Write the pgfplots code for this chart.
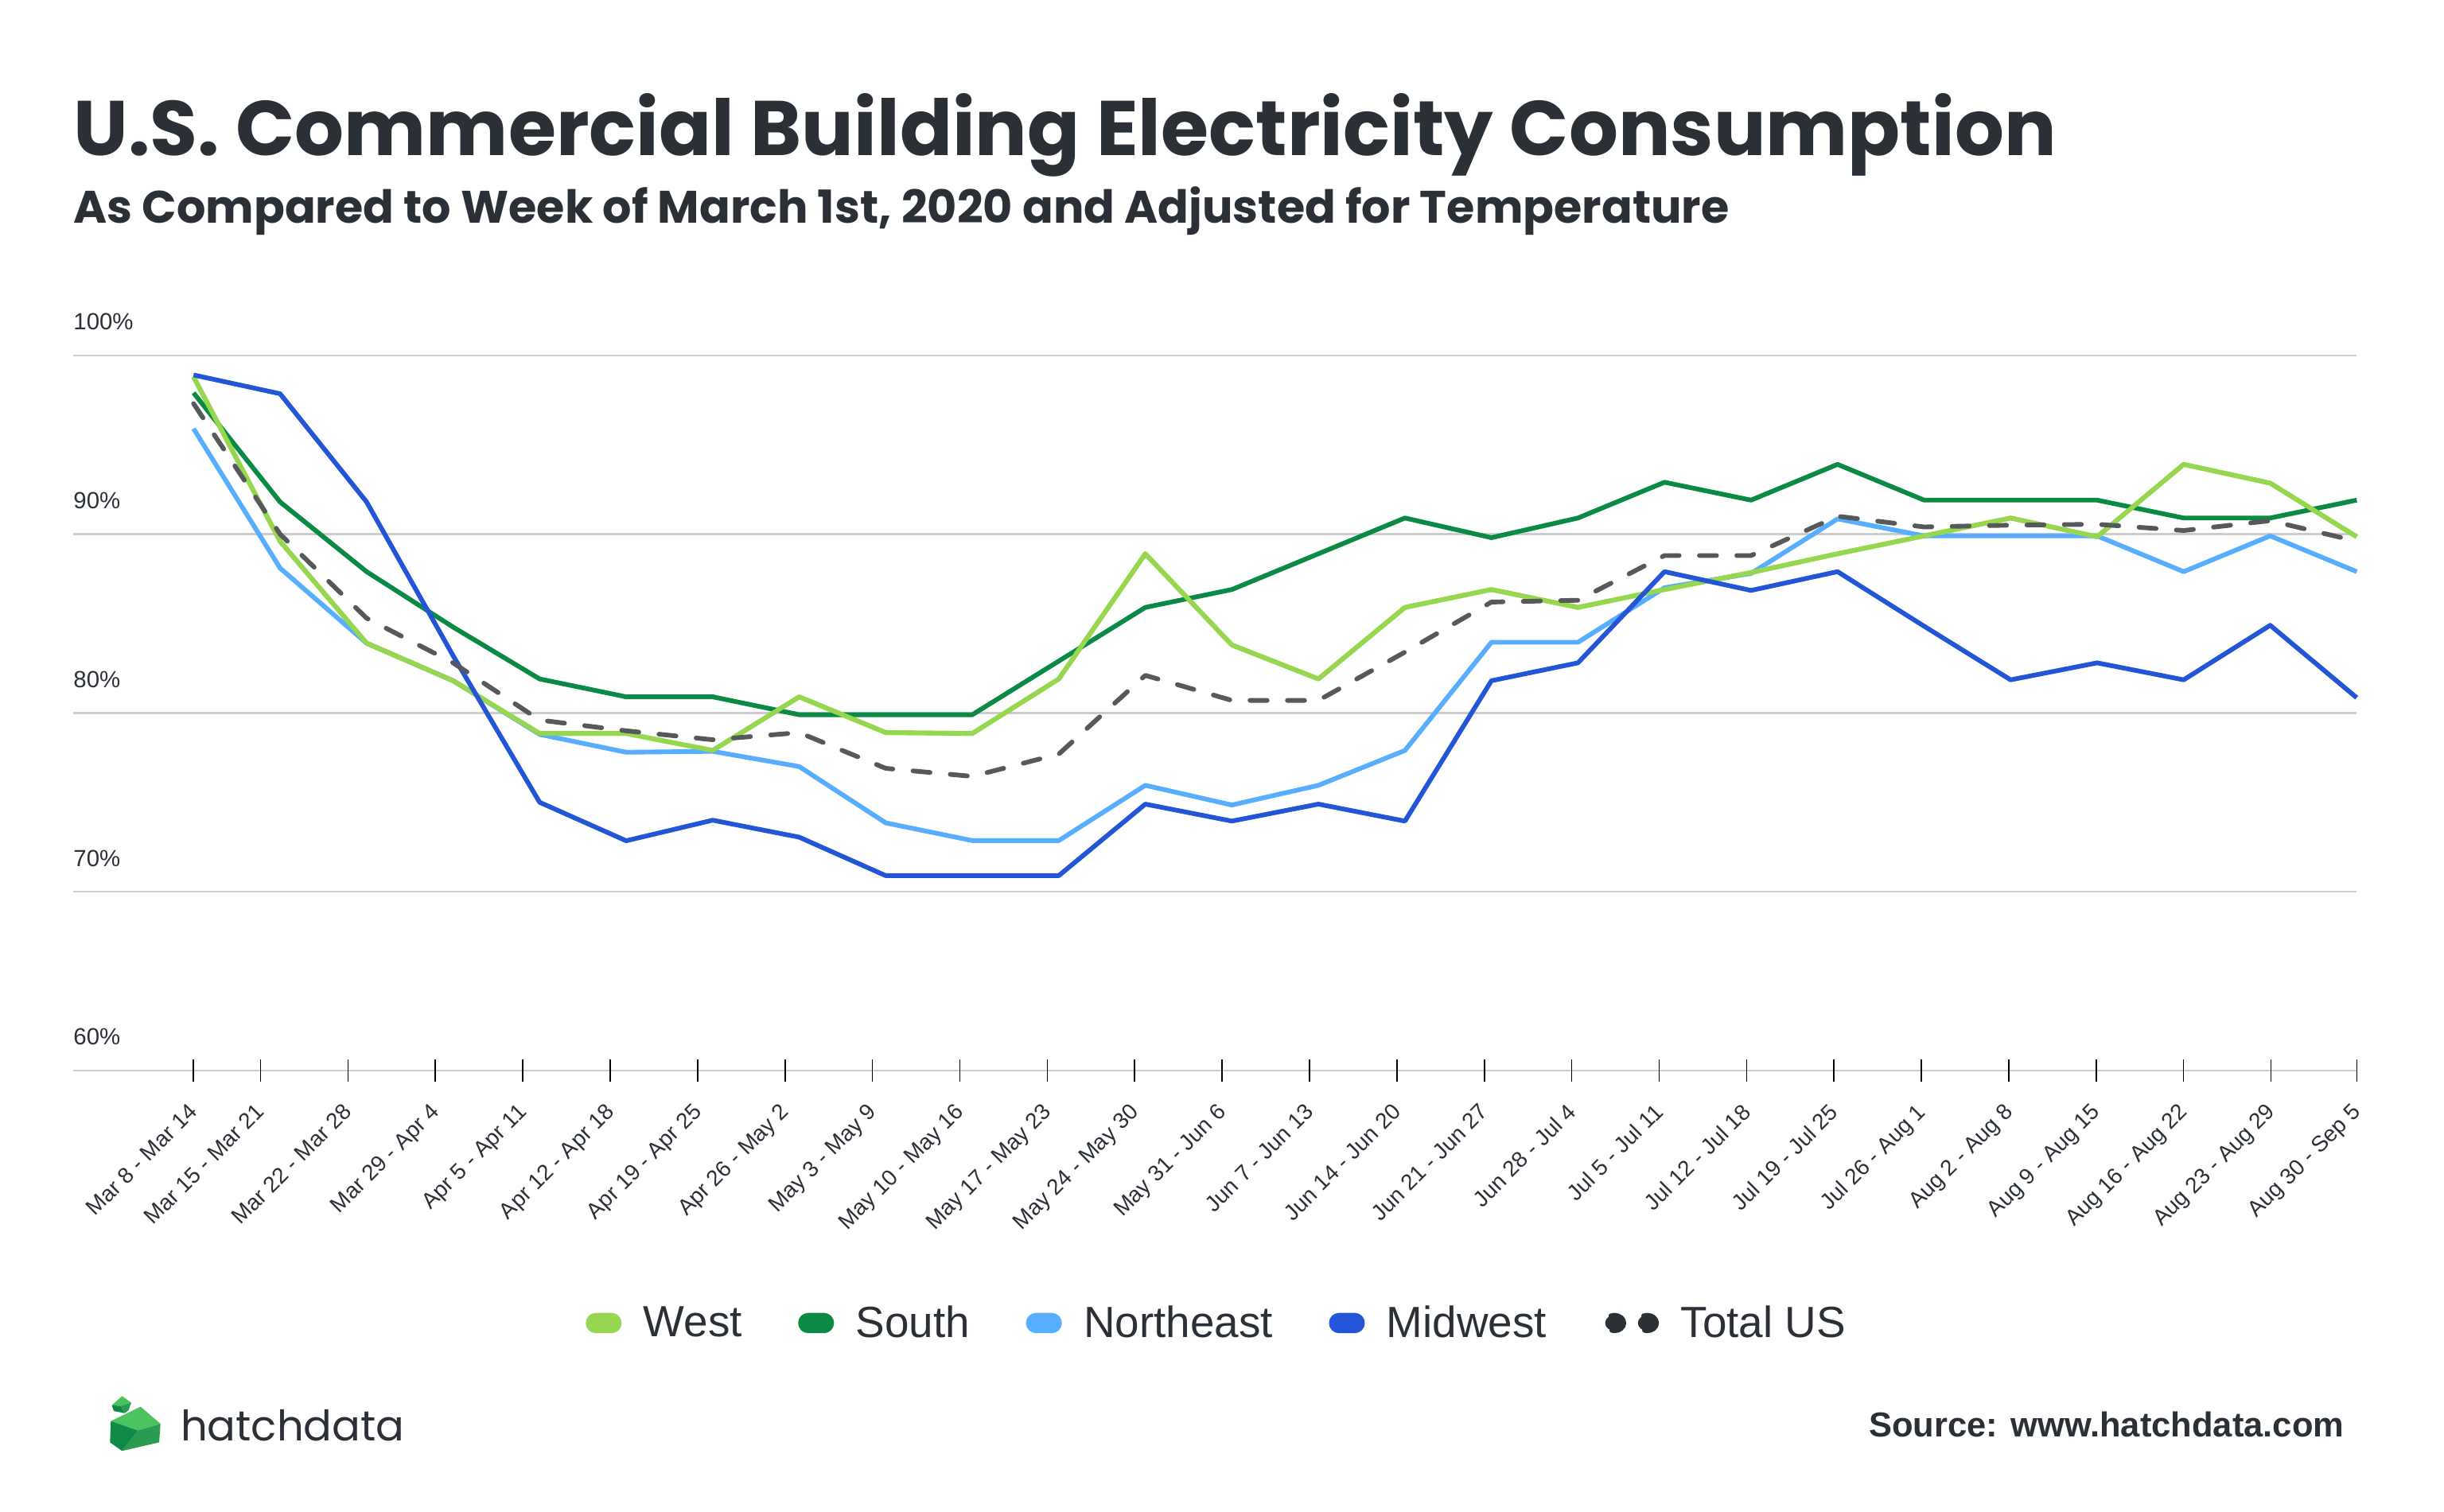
\documentclass[border=0pt]{standalone}
\usepackage{pgfplots}
\pgfplotsset{compat=1.18}
\usepackage{fontspec}
\setmainfont{Liberation Sans}
\newfontfamily\poppins{Poppins}
\definecolor{cWest}{HTML}{97D74F}
\definecolor{cSouth}{HTML}{0B8A45}
\definecolor{cNE}{HTML}{57ADFE}
\definecolor{cMid}{HTML}{2256D6}
\definecolor{cTot}{HTML}{55595C}
\definecolor{gridc}{HTML}{CCCCCC}
\definecolor{textc}{HTML}{2B3036}
\definecolor{logoA}{HTML}{4CC35E}
\definecolor{logoB}{HTML}{0F8946}
\definecolor{logoC}{HTML}{2A9C50}

\pgfplotstableread{
x West South NE Mid Tot
0 98.8 97.9 95.9 98.9 97.3
1 89.6 91.8 88.1 97.85 90.0
2 83.9 87.9 83.9 91.8 85.3
3 81.8 84.8 81.8 83.2 82.8
4 78.85 81.9 78.8 75.0 79.6
5 78.85 80.9 77.8 72.85 79.0
6 77.9 80.9 77.85 74.0 78.5
7 80.9 79.9 77.0 73.05 78.9
8 78.9 79.9 73.85 70.9 76.9
9 78.85 79.9 72.86 70.9 76.45
10 81.9 82.9 72.86 70.9 77.7
11 88.9 85.9 75.95 74.9 82.1
12 83.8 86.9 74.85 73.95 80.7
13 81.9 88.9 75.95 74.9 80.7
14 85.9 90.9 77.9 73.95 83.4
15 86.9 89.8 83.95 81.8 86.2
16 85.9 90.9 83.95 82.8 86.3
17 86.9 92.9 87.0 87.9 88.8
18 87.85 91.9 87.8 86.85 88.8
19 88.9 93.9 90.85 87.9 91.0
20 89.9 91.9 89.9 84.85 90.4
21 90.9 91.9 89.9 81.85 90.5
22 89.85 91.9 89.9 82.8 90.55
23 93.9 90.9 87.9 81.85 90.2
24 92.85 90.9 89.9 84.9 90.75
25 89.85 91.9 87.9 80.85 89.6
}\datatable

\begin{document}
\begin{tikzpicture}
\fill[white] (0pt,0pt) rectangle (1568pt,970pt);
\useasboundingbox (0pt,0pt) rectangle (1568pt,970pt);

\node[anchor=base west, inner sep=0pt, text=textc] at (47pt,870pt)
  {\poppins\bfseries\fontsize{49.7}{56}\selectfont U.S. Commercial Building Electricity Consumption};
\node[anchor=base west, inner sep=0pt, text=textc] at (47pt,827pt)
  {\poppins\bfseries\fontsize{29.2}{33}\selectfont As Compared to Week of March 1st, 2020 and Adjusted for Temperature};

\begin{axis}[
  at={(47pt,283pt)}, anchor=south west,
  scale only axis, width=1465pt, height=459pt,
  xmin=-1.39, xmax=25, ymin=60, ymax=100,
  axis line style={draw=none},
  clip=false,
  ytick={60,70,80,90,100},
  yticklabels={60\%,70\%,80\%,90\%,100\%},
  ymajorgrids,
  y grid style={draw=gridc, line width=1.2pt},
  ytick style={draw=none},
  yticklabel style={anchor=south west, inner sep=0pt, font=\fontsize{15}{17}\selectfont, text=textc, xshift=7pt, yshift=16pt},
  xtick={0,0.775,1.785,2.795,3.806,4.816,5.826,6.836,7.846,8.857,9.867,10.877,11.887,12.897,13.908,14.918,15.928,16.938,17.948,18.959,19.969,20.979,21.989,22.999,24.010,25},
  xticklabels={Mar 8 - Mar 14,Mar 15 - Mar 21,Mar 22 - Mar 28,Mar 29 - Apr 4,Apr 5 - Apr 11,Apr 12 - Apr 18,Apr 19 - Apr 25,Apr 26 - May 2,May 3 - May 9,May 10 - May 16,May 17 - May 23,May 24 - May 30,May 31 - Jun 6,Jun 7 - Jun 13,Jun 14 - Jun 20,Jun 21 - Jun 27,Jun 28 - Jul 4,Jul 5 - Jul 11,Jul 12 - Jul 18,Jul 19 - Jul 25,Jul 26 - Aug 1,Aug 2 - Aug 8,Aug 9 - Aug 15,Aug 16 - Aug 22,Aug 23 - Aug 29,Aug 30 - Sep 5},
  xtick pos=left,
  tick align=center,
  major tick length=14pt,
  xtick style={draw=black, line width=0.8pt},
  xticklabel style={rotate=45, anchor=north east, inner sep=0pt, font=\fontsize{14.3}{16}\selectfont, text=textc, xshift=-12pt, yshift=-6.5pt},
  every axis plot/.append style={line width=3pt, line join=round},
  legend columns=5,
  legend style={at={(0.501,-0.353)}, anchor=center, draw=none, fill=none,
    font=\fontsize{28}{32}\selectfont, text=textc,
    /tikz/every odd column/.append style={column sep=12pt},
    /tikz/every even column/.append style={column sep=34pt}},
  legend image code/.code={\fill[#1, rounded corners=5pt] (0pt,-5pt) rectangle (20pt,5pt);},
]
\addplot[cWest] table[x=x, y=West] {\datatable};
\addlegendentry{West}
\addplot[cSouth] table[x=x, y=South] {\datatable};
\addlegendentry{South}
\addplot[cNE] table[x=x, y=NE] {\datatable};
\addlegendentry{Northeast}
\addplot[cWest, forget plot] table[x=x, y=West] {\datatable};
\addplot[cMid] table[x=x, y=Mid] {\datatable};
\addlegendentry{Midwest}
\addplot[cTot, line cap=round, dash pattern=on 11pt off 13pt,
  legend image code/.code={\fill[textc] (6pt,0pt) ellipse (6pt and 5pt); \fill[textc] (27pt,0pt) ellipse (6pt and 5pt);}]
  table[x=x, y=Tot] {\datatable};
\addlegendentry{Total US}
\end{axis}

% logo
\fill[logoA] (71.1pt,58.0pt) -- (90.2pt,67.3pt) -- (102.95pt,56.3pt) -- (88.5pt,52.0pt) -- cycle;
\fill[logoB] (71.1pt,58.0pt) -- (88.5pt,52.0pt) -- (78.3pt,38.9pt) -- (70.6pt,44.4pt) -- cycle;
\fill[logoC] (88.5pt,52.0pt) -- (102.95pt,56.3pt) -- (102.1pt,44.4pt) -- (78.3pt,38.9pt) -- cycle;
\fill[white] (70pt,62pt) -- (77pt,65pt) -- (86pt,66pt) -- (85pt,71pt) -- (70pt,71pt) -- cycle;
\fill[logoA] (71.8pt,68.2pt) -- (78.3pt,74.1pt) -- (84.2pt,69.9pt) -- (77.4pt,67.8pt) -- cycle;
\fill[logoB] (71.8pt,68.2pt) -- (77.4pt,67.8pt) -- (80.0pt,63.1pt) -- (73pt,64.5pt) -- cycle;
\fill[logoC] (77.4pt,67.8pt) -- (84.2pt,69.9pt) -- (82.5pt,65pt) -- (80.0pt,63.1pt) -- cycle;
\node[anchor=base west, inner sep=0pt, text=textc] at (115.7pt,45.2pt)
  {\poppins\fontsize{27}{30}\selectfont hatchdata};

\node[anchor=base east, inner sep=0pt, text=textc] at (1504pt,48pt)
  {\bfseries\fontsize{22.2}{25}\selectfont Source: www.hatchdata.com};
\end{tikzpicture}
\end{document}
